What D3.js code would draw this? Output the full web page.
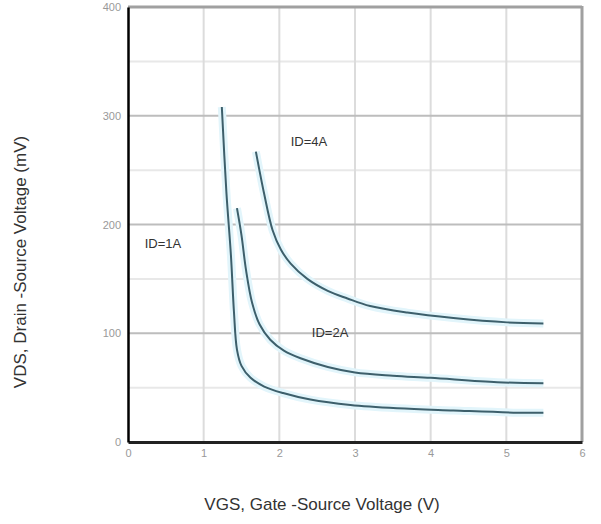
<!DOCTYPE html>
<html><head><meta charset="utf-8">
<script src="https://cdn.jsdelivr.net/npm/d3@7"></script>
<style>body{margin:0;background:#fff}svg{display:block}</style>
</head><body>
<svg id="c" width="601" height="524"></svg>
<script>
const xTicks = [0,1,2,3,4,5,6];
const yTicks = [0,100,200,300,400];
const yMinor = [50,150,250,350];
const seriesNames = ["ID=1A","ID=2A","ID=4A"];
const vgs1A = [1.24,1.30,1.36,1.40,1.44,1.50,1.62,1.80,2.05,2.41,2.94,3.56,4.3,5.15,5.49];
const vds1A = [308,230,172,120,85,70,59,51,45,39,34,31,29,27,27];
const vgs2A = [1.44,1.50,1.56,1.64,1.74,1.88,2.06,2.28,2.64,3.00,3.50,4.0,4.88,5.49];
const vds2A = [215,190,158,128,108,94,84,77,69,64,61,59,55,54];
const vgs4A = [1.69,1.80,1.91,2.02,2.15,2.37,2.64,2.90,3.20,3.69,4.30,5.01,5.49];
const vds4A = [267,228,195,177,164,150,139,132,125,119,114,110,109];
const labelPos = [[0.22,178],[2.43,97],[2.15,272]]; // data-space anchors for series labels

const svg = d3.select("#c");
const L=128,R=582,T=7,B=442;
const x = d3.scaleLinear().domain([0,6]).range([L,R]);
const y = d3.scaleLinear().domain([0,400]).range([B,T]);

// grid
svg.append("g").selectAll("line").data(yMinor).join("line")
  .attr("x1",L).attr("x2",R).attr("y1",d=>y(d)).attr("y2",d=>y(d))
  .attr("stroke","#e8e8e8").attr("stroke-width",2);
svg.append("g").selectAll("line").data(xTicks.slice(1,-1)).join("line")
  .attr("x1",d=>x(d)).attr("x2",d=>x(d)).attr("y1",T).attr("y2",B)
  .attr("stroke","#dcdcdc").attr("stroke-width",2);
svg.append("g").selectAll("line").data(yTicks.slice(1,-1)).join("line")
  .attr("x1",L).attr("x2",R).attr("y1",d=>y(d)).attr("y2",d=>y(d))
  .attr("stroke","#bdbdbd").attr("stroke-width",2);

// frame
svg.append("line").attr("x1",L).attr("x2",R).attr("y1",T).attr("y2",T).attr("stroke","#a0a0a0").attr("stroke-width",3);
svg.append("line").attr("x1",R).attr("x2",R).attr("y1",T-1).attr("y2",B).attr("stroke","#a0a0a0").attr("stroke-width",3);

// axes
const xAxis = svg.append("g").attr("transform",`translate(0,${B})`)
  .call(d3.axisBottom(x).tickValues(xTicks).tickSize(0).tickPadding(7).tickFormat(d3.format("d")));
const yAxis = svg.append("g").attr("transform",`translate(${L},0)`)
  .call(d3.axisLeft(y).tickValues(yTicks).tickSize(0).tickPadding(7).tickFormat(d3.format("d")));
xAxis.select(".domain").attr("stroke","#222").attr("stroke-width",3);
yAxis.select(".domain").attr("stroke","#000").attr("stroke-width",2.5);
[xAxis,yAxis].forEach(a=>a.selectAll("text").attr("font-family","Liberation Sans, Arial, sans-serif").attr("font-size",11).attr("fill","#999"));

// curves
const line = d3.line().x(d=>x(d[0])).y(d=>y(d[1])).curve(d3.curveCatmullRom.alpha(0.5));
const series = [d3.zip(vgs1A,vds1A), d3.zip(vgs2A,vds2A), d3.zip(vgs4A,vds4A)];
svg.append("g").selectAll("path.glow").data(series).join("path")
  .attr("d",line).attr("fill","none").attr("stroke","#e2f5fb").attr("stroke-width",8);
svg.append("g").selectAll("path.c").data(series).join("path")
  .attr("d",line).attr("fill","none").attr("stroke","#3d5f6b").attr("stroke-width",2);

// series labels
svg.append("g").selectAll("text").data(seriesNames).join("text")
  .attr("x",(d,i)=>x(labelPos[i][0])).attr("y",(d,i)=>y(labelPos[i][1]))
  .attr("font-family","Liberation Sans, Arial, sans-serif").attr("font-size",13).attr("fill","#333")
  .text(d=>d);

// axis titles
svg.append("text").attr("x",322).attr("y",510).attr("text-anchor","middle")
  .attr("font-family","Liberation Sans, Arial, sans-serif").attr("font-size",17).attr("fill","#333")
  .text("VGS, Gate -Source Voltage (V)");
svg.append("text").attr("transform","translate(26,262) rotate(-90)").attr("text-anchor","middle")
  .attr("font-family","Liberation Sans, Arial, sans-serif").attr("font-size",17).attr("fill","#333")
  .text("VDS, Drain -Source Voltage (mV)");
</script>
</body></html>
